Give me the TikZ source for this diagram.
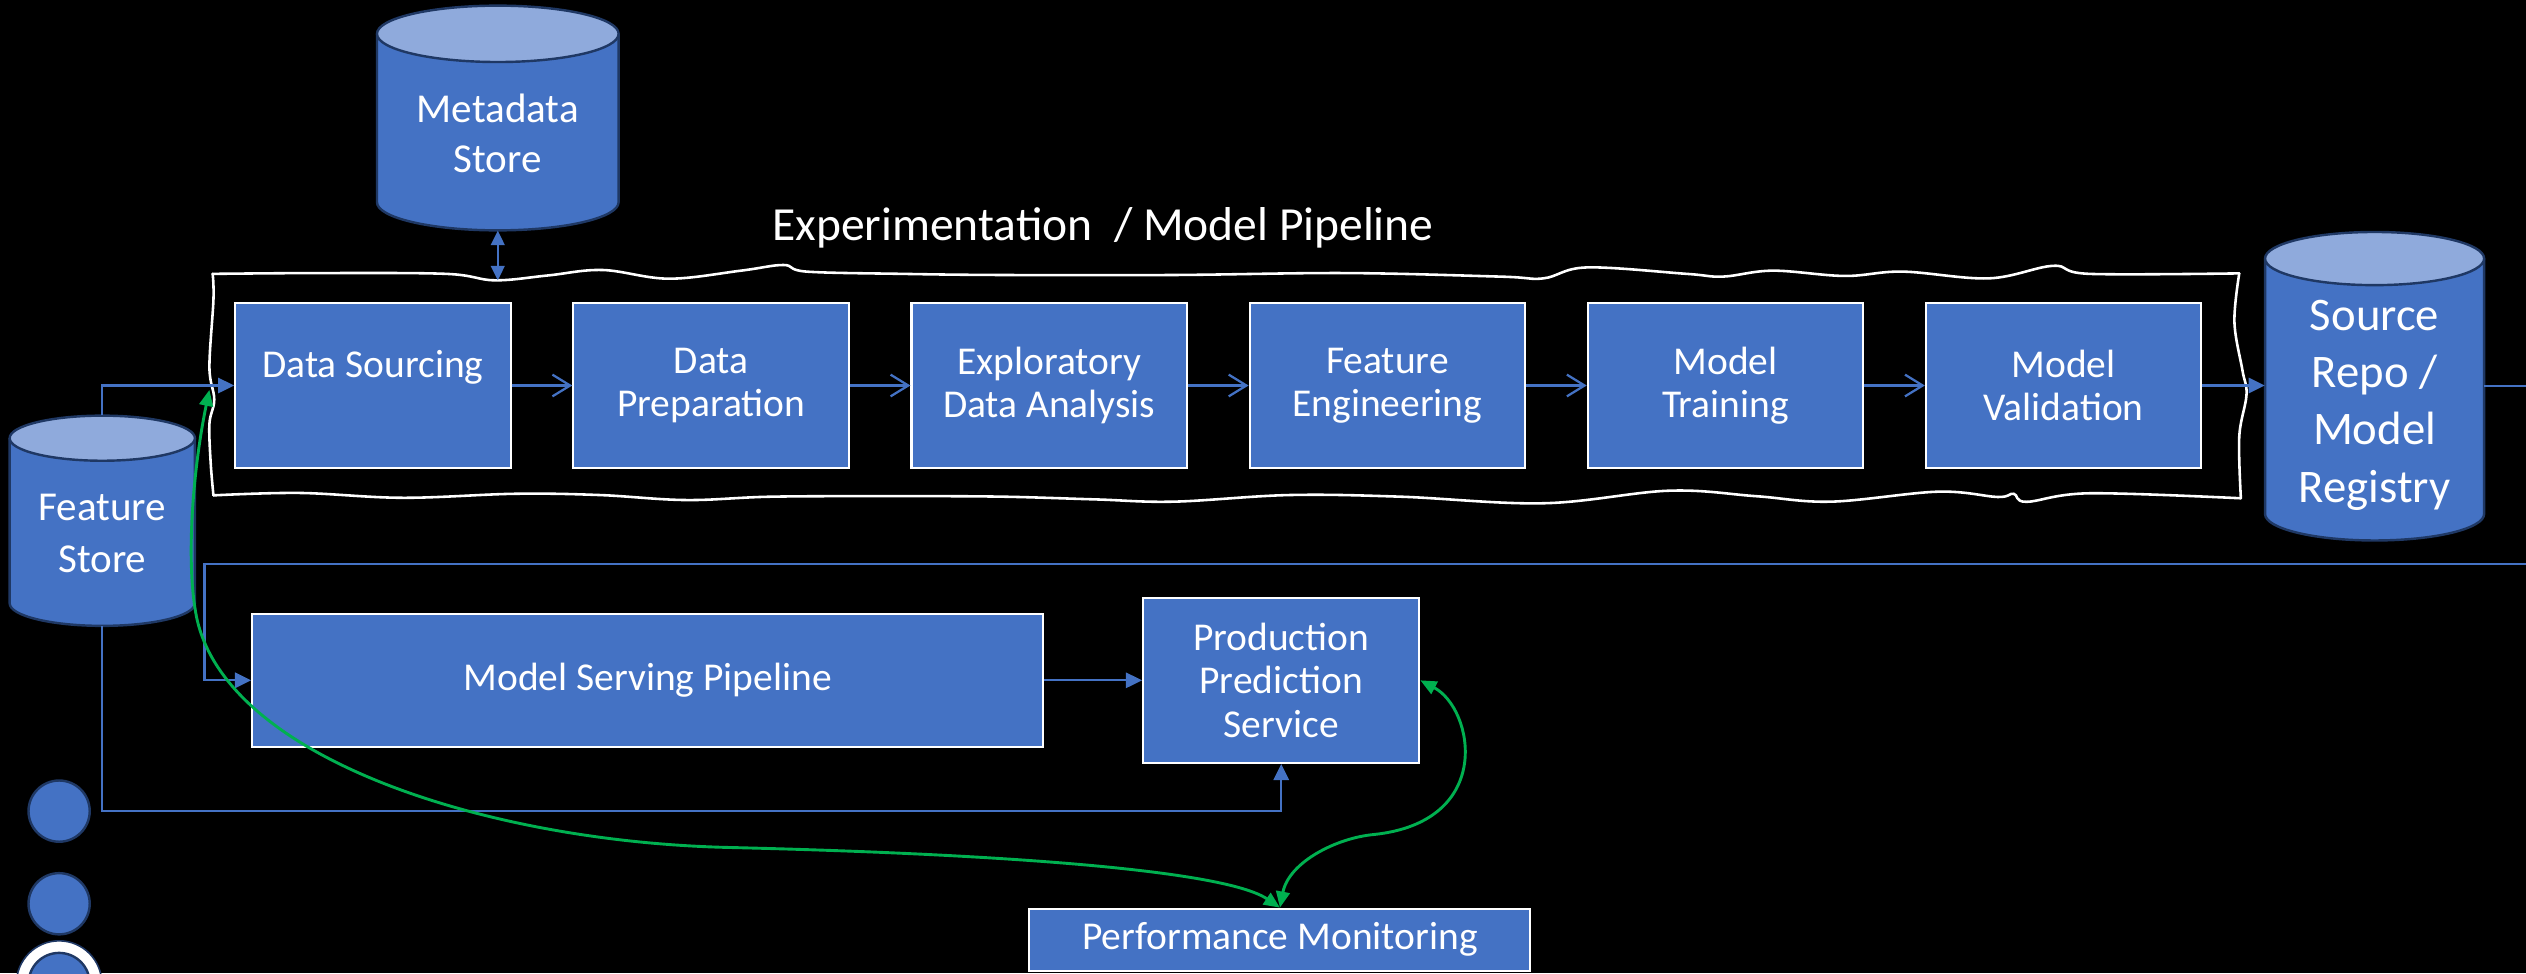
\documentclass[tikz,border=0pt]{standalone}
\usepackage{fontspec}
\setmainfont{Carlito}
\usetikzlibrary{arrows.meta}
\definecolor{boxblue}{HTML}{4472C4}
\definecolor{topblue}{HTML}{8FAADC}
\definecolor{edgeblue}{HTML}{1F3864}
\definecolor{linkgreen}{HTML}{00B050}

% name, x left, x right, y of top ellipse centre, y of bottom arc centre, y radius
\newcommand\mkcyl[6]{%
  \pgfmathsetmacro\cylcx{(#2+#3)/2}%
  \pgfmathsetmacro\cylrx{(#3-#2)/2}%
  \pgfmathsetmacro\cylcy{(#4+#5)/2}%
  \pgfmathsetmacro\cylh{(#5-#4)+2*#6}%
  \pgfmathsetmacro\cylw{#3-#2}%
  \fill[boxblue] (#2,#4) -- (#2,#5) arc[start angle=180,end angle=0,x radius=\cylrx,y radius=#6] -- (#3,#4) -- cycle;
  \draw[edgeblue, line width=1.5pt] (#2,#4) -- (#2,#5) arc[start angle=180,end angle=0,x radius=\cylrx,y radius=#6] -- (#3,#4);
  \filldraw[fill=topblue, draw=edgeblue, line width=1.5pt] (\cylcx,#4) ellipse[x radius=\cylrx, y radius=#6];
  \node[inner sep=0pt, minimum width=\cylw pt, minimum height=\cylh pt] (#1) at (\cylcx,\cylcy) {};%
}

\begin{document}
\begin{tikzpicture}[x=1pt,y=-1pt,
  box/.style={draw=white, line width=1.3pt, fill=boxblue, text=white, align=center, inner sep=0pt,
              minimum width=171pt, minimum height=102.5pt, font=\fontsize{24.5pt}{26.7pt}\selectfont},
  flow/.style={draw=boxblue, line width=1.4pt, -{Straight Barb[length=11pt,width=13.5pt]}},
  link/.style={draw=boxblue, line width=1.4pt, -{Triangle[length=10pt,width=9.5pt]}},
  dlink/.style={draw=boxblue, line width=1.4pt, {Triangle[length=9pt,width=8.5pt]}-{Triangle[length=9pt,width=8.5pt]}},
  mon/.style={draw=linkgreen, line width=1.8pt, {Triangle[length=10pt,width=8.5pt]}-{Triangle[length=10pt,width=8.5pt]}},
  cyltext/.style={text=white, align=center, inner sep=0pt},
  dot/.style={circle, draw=edgeblue, line width=1.5pt, fill=boxblue, minimum size=38pt, inner sep=0pt}]

\fill[black] (0,0) rectangle (1568,604);
\useasboundingbox (0,0) rectangle (1568,604);
\clip (0,0) rectangle (1568,604);

% title
\node[text=white, inner sep=0pt, anchor=base, font=\fontsize{29.5pt}{31pt}\selectfont] (title) at (684.7,149) {Experimentation~~/ Model Pipeline};

% wavy frame
\begin{scope}[white, line width=1.6pt, line cap=round, line join=round]
\draw plot[smooth, tension=0.6] coordinates {(132,170) (200,169.5) (277,170) (307,174) (340,171) (374,167.6) (415,173) (460,168) (486.4,164.5) (500.7,168.6) (560,170) (621.8,170.7) (728.7,170.7) (835.5,169.5) (931,171.7) (958,172.8) (985,166) (1047,170) (1069.5,171.7) (1100.5,168) (1145,171.3) (1181,168.6) (1234.5,172.8) (1274.5,165) (1297,170) (1390,169.7)};
\draw plot[smooth, tension=0.6] coordinates {(1390,169.7) (1387,200) (1392,230) (1394.5,245) (1390,271) (1391,309.3)};
\draw plot[smooth, tension=0.6] coordinates {(132.5,307.5) (186,306) (250,309) (320,306.5) (372.4,307.3) (426,310.4) (479.5,308.3) (560,308) (621.8,308.3) (680,310) (728.7,311.4) (800,307.3) (869,308.3) (958,312.4) (1036,304.6) (1090,308) (1136.6,311.4) (1203,305.2) (1240,308.5) (1250,306.5) (1258,311.5) (1297,306.2) (1391,309.3)};
\draw plot[smooth, tension=0.6] coordinates {(132,170) (132.5,186) (130,228) (133,248) (130,263) (130.8,287.6) (132.5,307.5)};
\end{scope}

% cylinders
\mkcyl{meta}{234}{384}{21}{125.5}{17.5}
\mkcyl{fs}{6}{121}{272}{374.5}{14}
\mkcyl{repo}{1406}{1542}{160.5}{319}{16.5}
\node[cyltext, font=\fontsize{25.5pt}{31pt}\selectfont] (metatext) at (309,83) {Metadata\\Store};
\node[cyltext, font=\fontsize{25.5pt}{32pt}\selectfont] (fstext) at (63.5,331) {Feature\\Store};
\node[cyltext, font=\fontsize{29pt}{35.5pt}\selectfont] (repotext) at (1474,251.5) {Source\\Repo /\\Model\\Registry};

% pipeline boxes
\node[box] (ds)   at (231.5,239.3)  {Data Sourcing\\\mbox{}};
\node[box] (prep) at (441.4,239.3)  {Data\\Preparation};
\node[box] (eda)  at (651.3,239.3)  {Exploratory\\Data Analysis};
\node[box] (fe)   at (861.2,239.3)  {Feature\\Engineering};
\node[box] (mt)   at (1071.1,239.3) {Model\\Training};
\node[box] (mv)   at (1281,239.3)   {Model\\Validation};

% serving side
\node[box, minimum width=491pt, minimum height=82.5pt] (serving) at (402,422.3) {Model Serving Pipeline};
\node[box, minimum width=171.5pt, minimum height=102.6pt, font=\fontsize{24.5pt}{27pt}\selectfont] (prod) at (795.3,422.3) {Production\\Prediction\\Service};
\node[box, minimum width=311pt, minimum height=38.5pt] (perf) at (794.5,583.3) {Performance Monitoring};

% circles
\node[dot] (c1) at (36.7,503.5) {};
\node[dot] (c2) at (36.7,561) {};
\node[circle, fill=white, draw=edgeblue, line width=1pt, minimum size=53pt, inner sep=0pt] (c3ring) at (36.7,610.5) {};
\node[dot] (c3) at (36.7,610.5) {};

% coordinates for free ends / bends
\coordinate (mframe) at (309,174);
\coordinate (loopL) at (127,350);
\coordinate (fsbend) at (63.5,503.5);
\coordinate (gtip) at (130,242);

% blue connectors
\draw[dlink] (meta.south) -- (mframe);
\draw[link] (fs.north) |- (ds.west);
\draw[flow] (ds.east) -- (prep.west);
\draw[flow] (prep.east) -- (eda.west);
\draw[flow] (eda.east) -- (fe.west);
\draw[flow] (fe.east) -- (mt.west);
\draw[flow] (mt.east) -- (mv.west);
\draw[link] (mv.east) -- (mv.east -| repo.west);
\draw[link] (repo.east) -- ++(60,0) |- (loopL) |- (serving.west);
\draw[link] (serving.east) -- (prod.west);
\draw[link] (fs.south) -- (fsbend) -| (prod.south);

% green monitoring connectors
\draw[mon] (prod.east) .. controls (915,440) and (928,510) .. (853,518) .. controls (830,520) and (800,535) .. (perf.north);
\draw[mon] (perf.north) .. controls (760,540) and (620,530) .. (450,526) .. controls (300,522) and (140,470) .. (122,383) .. controls (115,348) and (120,290) .. (gtip);

\end{tikzpicture}
\end{document}
